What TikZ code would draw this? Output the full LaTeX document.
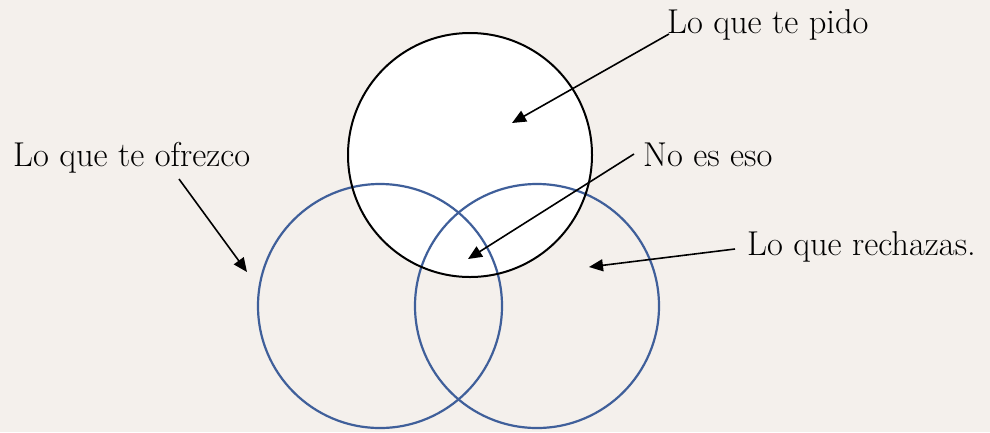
\documentclass[tikz,border=0pt]{standalone}
\usetikzlibrary{arrows.meta}
\definecolor{bg}{HTML}{F4F0EC}
\definecolor{vblue}{HTML}{3F5F9A}
\tikzset{
  lbl/.style={anchor=base west, inner sep=0pt, font=\fontsize{34.5}{38}\selectfont},
  pointer/.style={line width=1.6pt, -{Triangle[length=14pt,width=12pt]}},
  bluecirc/.style={draw=vblue, line width=2.2pt},
}
\begin{document}
\begin{tikzpicture}[x=1pt,y=-1pt]
\fill[bg] (0,0) rectangle (990,432);
\useasboundingbox (0,0) rectangle (990,432);
% circles
\fill[white] (470,155) circle[radius=122];
\draw[bluecirc] (380,306) circle[radius=122];
\draw[bluecirc] (537,306) circle[radius=122];
\draw[black, line width=2pt] (470,155) circle[radius=122];
% labels
\node[lbl] (pido) at (667,33) {Lo que te pido};
\node[lbl] (ofrezco) at (13,166) {Lo que te ofrezco};
\node[lbl] (noeso) at (643,166) {No es eso};
\node[lbl] (rechazas) at (747,255) {Lo que rechazas.};
% targets
\coordinate (tpido) at (512,123);
\coordinate (tofrezco) at (247,272);
\coordinate (tnoeso) at (468,259);
\coordinate (trech) at (589,267);
\coordinate (spido) at (669,34);
\coordinate (sofrezco) at (179,179);
\coordinate (snoeso) at (634,154);
\coordinate (srech) at (735,249);
\draw[pointer] (spido) -- (tpido);
\draw[pointer] (sofrezco) -- (tofrezco);
\draw[pointer] (snoeso) -- (tnoeso);
\draw[pointer] (srech) -- (trech);
\end{tikzpicture}
\end{document}
